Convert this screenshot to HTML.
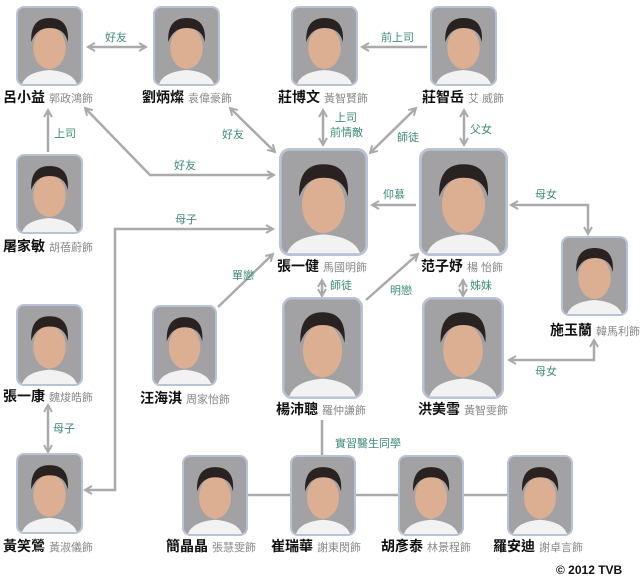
<!DOCTYPE html>
<html><head><meta charset="utf-8"><style>
html,body{margin:0;padding:0;background:#fff;}
svg{display:block}
.n{font-family:"Liberation Sans","Noto Sans CJK TC",sans-serif;font-weight:bold;font-size:14px;fill:#111}
.a{font-family:"Liberation Sans","Noto Sans CJK TC",sans-serif;font-size:11px;fill:#888}
.l{font-family:"Liberation Sans","Noto Sans CJK TC",sans-serif;font-size:11px;fill:#3d8a78}
.ln{stroke:#aaa;stroke-width:2.5;fill:none}
</style></head><body>
<svg width="640" height="580" viewBox="0 0 640 580" xmlns="http://www.w3.org/2000/svg">
<defs>
<marker id="ar" viewBox="0 0 10 10" refX="8" refY="5" markerWidth="4" markerHeight="4" orient="auto-start-reverse"><path d="M1,1 L8,5 L1,9" fill="none" stroke="#aaa" stroke-width="2"/></marker>
<symbol id="p" viewBox="0 0 66 80" preserveAspectRatio="none">
<rect x="1" y="1" width="64" height="78" rx="7" fill="#a2a2a4" stroke="#b9c3d6" stroke-width="2"/>
<path d="M6,78 Q10,66 33,64 Q56,66 60,78 Z" fill="#f2f2f2"/>
<ellipse cx="33" cy="42" rx="16" ry="21" fill="#dcae92"/>
<path d="M15,36 Q14,12 33,12 Q53,12 51,36 Q48,22 33,22 Q20,22 15,36 Z" fill="#2a2220"/>
</symbol>
</defs>

<!-- connectors -->
<line class="ln" x1="88" y1="47" x2="146" y2="47" marker-start="url(#ar)" marker-end="url(#ar)"/>
<line class="ln" x1="427" y1="47" x2="362" y2="47" marker-end="url(#ar)"/>
<line class="ln" x1="48" y1="152" x2="48" y2="110" marker-end="url(#ar)"/>
<polyline class="ln" points="85,108 150,175 274,175" marker-start="url(#ar)" marker-end="url(#ar)"/>
<line class="ln" x1="230" y1="108" x2="275" y2="152" marker-start="url(#ar)" marker-end="url(#ar)"/>
<line class="ln" x1="323" y1="110" x2="323" y2="145" marker-start="url(#ar)" marker-end="url(#ar)"/>
<line class="ln" x1="416" y1="108" x2="370" y2="153" marker-start="url(#ar)" marker-end="url(#ar)"/>
<line class="ln" x1="464" y1="110" x2="464" y2="145" marker-start="url(#ar)" marker-end="url(#ar)"/>
<line class="ln" x1="416" y1="205" x2="372" y2="205" marker-end="url(#ar)"/>
<polyline class="ln" points="511,205 588,205 588,234" marker-start="url(#ar)" marker-end="url(#ar)"/>
<polyline class="ln" points="85,490 115,490 115,229 273,229" marker-start="url(#ar)" marker-end="url(#ar)"/>
<line class="ln" x1="218" y1="307" x2="273" y2="254" marker-end="url(#ar)"/>
<line class="ln" x1="322" y1="280" x2="322" y2="296" marker-start="url(#ar)" marker-end="url(#ar)"/>
<line class="ln" x1="366" y1="300" x2="418" y2="254" marker-end="url(#ar)"/>
<line class="ln" x1="463" y1="280" x2="463" y2="296" marker-start="url(#ar)" marker-end="url(#ar)"/>
<polyline class="ln" points="509,360 594,360 594,340" marker-start="url(#ar)" marker-end="url(#ar)"/>
<line class="ln" x1="48" y1="405" x2="48" y2="452" marker-start="url(#ar)" marker-end="url(#ar)"/>
<line class="ln" x1="322" y1="420" x2="322" y2="456"/>
<line class="ln" x1="247" y1="495" x2="507" y2="495"/>

<!-- labels -->
<text class="l" x="105" y="41">好友</text>
<text class="l" x="381" y="41">前上司</text>
<text class="l" x="54" y="137">上司</text>
<text class="l" x="174" y="169">好友</text>
<text class="l" x="222" y="138">好友</text>
<text class="l" x="335" y="121">上司</text>
<text class="l" x="330" y="136">前情敵</text>
<text class="l" x="397" y="141">師徒</text>
<text class="l" x="470" y="133">父女</text>
<text class="l" x="383" y="198">仰慕</text>
<text class="l" x="535" y="198">母女</text>
<text class="l" x="175" y="223">母子</text>
<text class="l" x="232" y="279">單戀</text>
<text class="l" x="330" y="289">師徒</text>
<text class="l" x="390" y="294">明戀</text>
<text class="l" x="470" y="289">姊妹</text>
<text class="l" x="535" y="375">母女</text>
<text class="l" x="53" y="432">母子</text>
<text class="l" x="335" y="447">實習醫生同學</text>

<!-- portraits -->
<use href="#p" x="16" y="6" width="67" height="80"/>
<use href="#p" x="153" y="6" width="67" height="80"/>
<use href="#p" x="291" y="6" width="67" height="80"/>
<use href="#p" x="430" y="6" width="67" height="80"/>
<use href="#p" x="16" y="154" width="67" height="80"/>
<use href="#p" x="279" y="148" width="89" height="108"/>
<use href="#p" x="419" y="148" width="89" height="108"/>
<use href="#p" x="561" y="236" width="67" height="80"/>
<use href="#p" x="16" y="304" width="67" height="82"/>
<use href="#p" x="152" y="305" width="65" height="81"/>
<use href="#p" x="282" y="297" width="81" height="102"/>
<use href="#p" x="422" y="297" width="82" height="102"/>
<use href="#p" x="16" y="453" width="67" height="81"/>
<use href="#p" x="182" y="455" width="66" height="81"/>
<use href="#p" x="290" y="455" width="66" height="81"/>
<use href="#p" x="398" y="455" width="66" height="81"/>
<use href="#p" x="507" y="455" width="66" height="81"/>

<!-- names -->
<text x="3" y="102"><tspan class="n">呂小益</tspan><tspan class="a" dx="4">郭政鴻飾</tspan></text>
<text x="142" y="102"><tspan class="n">劉炳燦</tspan><tspan class="a" dx="4">袁偉豪飾</tspan></text>
<text x="278" y="102"><tspan class="n">莊博文</tspan><tspan class="a" dx="4">黃智賢飾</tspan></text>
<text x="422" y="102"><tspan class="n">莊智岳</tspan><tspan class="a" dx="4">艾 威飾</tspan></text>
<text x="3" y="251"><tspan class="n">屠家敏</tspan><tspan class="a" dx="4">胡蓓蔚飾</tspan></text>
<text x="277" y="271"><tspan class="n">張一健</tspan><tspan class="a" dx="4">馬國明飾</tspan></text>
<text x="421" y="271"><tspan class="n">范子妤</tspan><tspan class="a" dx="4">楊 怡飾</tspan></text>
<text x="550" y="335"><tspan class="n">施玉蘭</tspan><tspan class="a" dx="4">韓馬利飾</tspan></text>
<text x="3" y="401"><tspan class="n">張一康</tspan><tspan class="a" dx="4">魏焌皓飾</tspan></text>
<text x="140" y="403"><tspan class="n">汪海淇</tspan><tspan class="a" dx="4">周家怡飾</tspan></text>
<text x="276" y="414"><tspan class="n">楊沛聰</tspan><tspan class="a" dx="4">羅仲謙飾</tspan></text>
<text x="418" y="414"><tspan class="n">洪美雪</tspan><tspan class="a" dx="4">黃智雯飾</tspan></text>
<text x="3" y="551"><tspan class="n">黃笑鶯</tspan><tspan class="a" dx="4">黃淑儀飾</tspan></text>
<text x="166" y="551"><tspan class="n">簡晶晶</tspan><tspan class="a" dx="4">張慧雯飾</tspan></text>
<text x="271" y="551"><tspan class="n">崔瑞華</tspan><tspan class="a" dx="4">謝東閔飾</tspan></text>
<text x="381" y="551"><tspan class="n">胡彥泰</tspan><tspan class="a" dx="4">林景程飾</tspan></text>
<text x="493" y="551"><tspan class="n">羅安迪</tspan><tspan class="a" dx="4">謝卓言飾</tspan></text>

<text x="556" y="574" style="font-family:'Liberation Sans',sans-serif;font-weight:bold;font-size:12px;fill:#111">© 2012 TVB</text>
</svg>
</body></html>
